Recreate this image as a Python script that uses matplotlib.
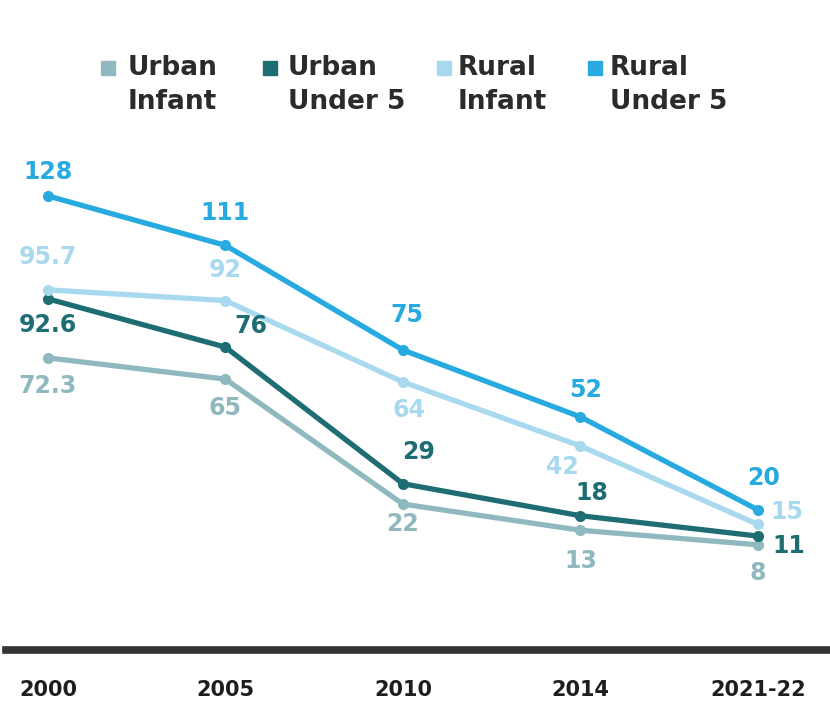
import matplotlib.pyplot as plt

# survey rounds and mortality rates (deaths per 1,000 live births)
anos = ['2000', '2005', '2010', '2014', '2021-22']
urbano_infantil = [72.3, 65, 22, 13, 8]
urbano_menor5 = [92.6, 76, 29, 18, 11]
rural_infantil = [95.7, 92, 64, 42, 15]
rural_menor5 = [128, 111, 75, 52, 20]

nomes = ['Urban\nInfant', 'Urban\nUnder 5', 'Rural\nInfant', 'Rural\nUnder 5']
cores = ['#8fb9bf', '#1d6d73', '#a8d9ef', '#27aadf']

nomeFonte = 'DejaVu Sans'
corTexto = '#2b2b2b'

# label offsets (points) for each series, per year
desloc = {
    0: [(0, -20), (0, -21), (0, -14), (0, -22), (0, -20)],
    1: [(0, -19), (18, 15), (11, 23), (8, 16), (22, -7)],
    2: [(0, 24), (0, 22), (4, -20), (-13, -15), (21, 9)],
    3: [(0, 17), (0, 23), (3, 25), (4, 19), (4, 23)],
}

fig = plt.figure(figsize=(8.3, 7.07), dpi=100)
ax = fig.add_axes([0.007, 0.081, 0.993, 0.919])

series = [urbano_infantil, urbano_menor5, rural_infantil, rural_menor5]
x = list(range(len(anos)))
for i, valores in enumerate(series):
    ax.plot(x, valores, color=cores[i], lw=3.8, marker='o', ms=7,
            solid_joinstyle='round', zorder=2 + i)
    for j, v in enumerate(valores):
        dx, dy = desloc[i][j]
        ax.annotate(f'{v:g}', (j, v), xytext=(dx, dy), textcoords='offset points',
                    ha='center', va='center', fontsize=17, fontweight='heavy',
                    fontname=nomeFonte, color=cores[i], zorder=10)

ax.set_xlim(-0.237, 4.406)
ax.set_ylim(-28.1, 195.4)
ax.set_xticks(x)
ax.set_xticklabels(anos, fontsize=15, fontweight='heavy', fontname=nomeFonte,
                   color='#1e1e1e')
ax.tick_params(axis='x', length=0, pad=22)
ax.set_yticks([])
for lado in ['top', 'right', 'left']:
    ax.spines[lado].set_visible(False)
ax.spines['bottom'].set_linewidth(5.5)
ax.spines['bottom'].set_color('#333333')

# legend built by hand: coloured square plus two-line name
leg_x = [101, 263, 437, 588]
leg_txt = [128, 288, 458, 610]
for i in range(4):
    fig.patches.append(plt.Rectangle((leg_x[i] / 830, 1 - 75 / 707), 14 / 830, 14 / 707,
                                     transform=fig.transFigure, color=cores[i]))
    fig.text(leg_txt[i] / 830, 1 - 55 / 707, nomes[i], ha='left', va='top',
             fontsize=19, fontweight='heavy', fontname=nomeFonte, color=corTexto,
             linespacing=1.4)

fig.savefig('out.png', dpi=100, facecolor='white')
